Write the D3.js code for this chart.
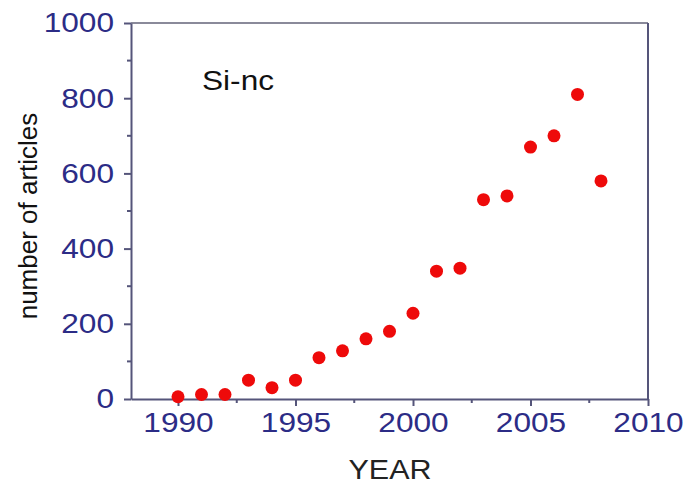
<!DOCTYPE html>
<html>
<head>
<meta charset="utf-8">
<script src="https://cdn.jsdelivr.net/npm/d3@7"></script>
<style>
  html, body { margin: 0; padding: 0; background: #fff; }
  svg { display: block; font-family: "Liberation Sans", Arial, sans-serif; }
</style>
</head>
<body>
<svg id="chart" width="687" height="487"></svg>
<script>
// Yearly count of published articles on silicon nanocrystals
const years = [1990, 1991, 1992, 1993, 1994, 1995, 1996, 1997, 1998, 1999,
               2000, 2001, 2002, 2003, 2004, 2005, 2006, 2007, 2008];
const articles = [6, 12, 12, 50, 30, 50, 110, 128, 160, 180,
                  228, 340, 348, 530, 540, 670, 700, 810, 580];
const xTicks = [1990, 1995, 2000, 2005, 2010];
const yTicks = [0, 200, 400, 600, 800, 1000];

const svg = d3.select("#chart");
const plotLeft = 131, plotRight = 648, plotTop = 23, plotBottom = 399;
const wide = "scale(1.13,1)"; // slightly wide lettering

const x = d3.scaleLinear().domain([1988, 2010]).range([plotLeft, plotRight]);
const y = d3.scaleLinear().domain([0, 1000]).range([plotBottom, plotTop]);

const axisColor = "#55557a";
const labelColor = "#2c2c86";

// Frame lines (top and right)
svg.append("line").attr("x1", plotLeft).attr("x2", plotRight).attr("y1", plotTop).attr("y2", plotTop)
  .attr("stroke", "#8a8a9a").attr("stroke-width", 2);
svg.append("line").attr("x1", plotRight).attr("x2", plotRight).attr("y1", plotTop).attr("y2", plotBottom)
  .attr("stroke", axisColor).attr("stroke-width", 2);

// Minor ticks
const xMinor = d3.range(1990, 2010, 5).map(d => d + 2.5);
const yMinor = d3.range(100, 1000, 200);
svg.append("g").selectAll("line").data(xMinor).join("line")
  .attr("x1", d => x(d)).attr("x2", d => x(d)).attr("y1", plotBottom).attr("y2", plotBottom + 4)
  .attr("stroke", axisColor).attr("stroke-width", 2);
svg.append("g").selectAll("line").data(yMinor).join("line")
  .attr("x1", plotLeft - 4).attr("x2", plotLeft).attr("y1", d => y(d)).attr("y2", d => y(d))
  .attr("stroke", axisColor).attr("stroke-width", 2);

// X axis
const gx = svg.append("g").attr("transform", `translate(0,${plotBottom})`)
  .call(d3.axisBottom(x).tickValues(xTicks).tickFormat(d3.format("d")).tickSizeInner(7).tickSizeOuter(0).tickPadding(6));
gx.select(".domain").attr("stroke", axisColor).attr("stroke-width", 2);
gx.selectAll(".tick line").attr("stroke", axisColor).attr("stroke-width", 2);
gx.selectAll(".tick text").attr("fill", labelColor).attr("font-size", 28)
  .attr("font-family", "Liberation Sans, Arial, sans-serif")
  .attr("transform", wide);

// Y axis
const gy = svg.append("g").attr("transform", `translate(${plotLeft},0)`)
  .call(d3.axisLeft(y).tickValues(yTicks).tickFormat(d3.format("d")).tickSizeInner(7).tickSizeOuter(0).tickPadding(8));
gy.select(".domain").attr("stroke", axisColor).attr("stroke-width", 2);
gy.selectAll(".tick line").attr("stroke", axisColor).attr("stroke-width", 2);
gy.selectAll(".tick text").attr("fill", labelColor).attr("font-size", 28)
  .attr("font-family", "Liberation Sans, Arial, sans-serif")
  .attr("transform", wide);

// Points
svg.append("g").selectAll("circle").data(years.map((yr, i) => [yr, articles[i]])).join("circle")
  .attr("cx", d => x(d[0])).attr("cy", d => y(d[1])).attr("r", 6.5)
  .attr("fill", "#ee0a0a");

// Labels
svg.append("text").attr("transform", `translate(202,90) ${wide}`)
  .attr("font-size", 28).attr("fill", "#111").text("Si-nc");
svg.append("text").attr("transform", `translate(390,479) ${wide}`).attr("text-anchor", "middle")
  .attr("font-size", 27).attr("fill", "#222").text("YEAR");
svg.append("text").attr("transform", "translate(37,216) rotate(-90)")
  .attr("text-anchor", "middle").attr("font-size", 26).attr("fill", "#111")
  .text("number of articles");
</script>
</body>
</html>
